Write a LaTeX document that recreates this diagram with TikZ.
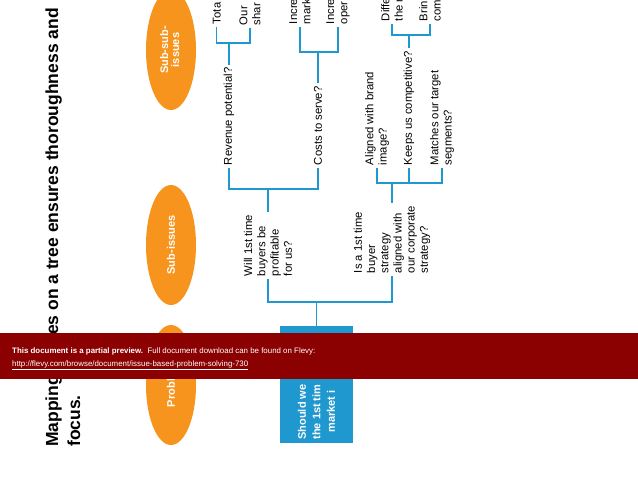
\documentclass[tikz,border=0pt]{standalone}
\usepackage{fontspec}
\setmainfont{Liberation Sans}
\usetikzlibrary{shapes.geometric}
\definecolor{orng}{HTML}{F7941D}
\definecolor{tblue}{HTML}{1F97CF}
\definecolor{bannerred}{HTML}{8B0000}
\tikzset{
  tt/.style={rotate=90, anchor=west, align=left, inner sep=0pt, outer sep=3pt,
    font=\fontsize{11.3}{13.2}\selectfont},
  oval/.style={ellipse, fill=orng, draw=none, minimum width=50pt, minimum height=120pt,
    inner sep=0pt, text=white, font=\bfseries\fontsize{11}{13}\selectfont, align=center},
  conn/.style={draw=tblue, line width=1.5pt},
  titletext/.style={rotate=90, anchor=base west, inner sep=0pt,
    font=\bfseries\fontsize{17.5}{22}\selectfont}
}
\begin{document}
\begin{tikzpicture}[x=1pt,y=-1pt]
\useasboundingbox (0,0) rectangle (638,493);
\fill[white] (0,0) rectangle (638,493);
% title
\node[titletext] (t1) at (58,447) {Mapping issues on a tree ensures thoroughness and};
\node[titletext] (t2) at (80,447) {focus.};
% ovals
\node[oval] (o1) at (171,50) {\rotatebox{90}{\begin{tabular}{@{}c@{}}Sub-sub-\\[-2pt]issues\end{tabular}}};
\node[oval] (o2) at (171,245) {\rotatebox{90}{Sub-issues}};
\node[oval] (o3) at (171,385) {\rotatebox{90}{Problem}};
% problem box
\node[rotate=90, fill=tblue, minimum width=117pt, minimum height=73pt, inner sep=0pt,
  text=white, align=center, font=\bfseries\fontsize{11}{14.5}\selectfont] (prob) at (316.5,384.5)
  {\makebox[110pt][l]{Should we}\\ \makebox[110pt][l]{the 1st tim}\\ \makebox[96pt][l]{market i}};
% sub-sub-issues (clipped at top)
\node[tt] (tota) at (216.7,27) {Tota};
\node[tt] (our) at (250,28) {Our\\shar};
\node[tt] (inc1) at (300,27) {Incre\\mark};
\node[tt] (inc2) at (338,27) {Incre\\oper};
\node[tt] (diff) at (392,24) {Diffe\\the r};
\node[tt] (brin) at (430,24) {Brin\\com};
% level 3
\node[tt] (rev) at (229,168) {Revenue potential?};
\node[tt] (cost) at (318,168) {Costs to serve?};
\node[tt] (align) at (377,168) {Aligned with brand\\image?};
\node[tt] (keeps) at (409,168) {Keeps us competitive?};
\node[tt] (match) at (442,168) {Matches our target\\segments?};
% level 2
\node[tt] (will) at (268,279) {Will 1st time\\buyers be\\profitable\\for us?};
\node[tt] (isa) at (392,276) {Is a 1st time\\buyer\\strategy\\aligned with\\our corporate\\strategy?};
% bar points
\coordinate (brev) at (229,43);
\coordinate (bcost) at (318,52);
\coordinate (bkeeps) at (409,35);
\coordinate (bwill) at (268,189);
\coordinate (bisa) at (392,183);
\coordinate (btop) at (316.5,302);
% connectors
\draw[conn] (tota.west) |- (brev) -| (our.west);
\draw[conn] (rev.east) -- (brev);
\draw[conn] (inc1.west) |- (bcost) -| (inc2.west);
\draw[conn] (cost.east) -- (bcost);
\draw[conn] (diff.west) |- (bkeeps) -| (brin.west);
\draw[conn] (keeps.east) -- (bkeeps);
\draw[conn] (rev.west) |- (bwill) -| (cost.west);
\draw[conn] (will.east) -- (bwill);
\draw[conn] (align.west) |- (bisa) -| (match.west);
\draw[conn] (keeps.west) -- (keeps.west |- bisa);
\draw[conn] (isa.east) -- (bisa);
\draw[conn] (will.west) |- (btop) -| (isa.west);
\draw[conn] (prob.east) -- (btop);
% banner
\fill[bannerred] (0,333) rectangle (638,379);
\node[anchor=base west, inner sep=0pt, text=white, font=\fontsize{7.9}{9}\selectfont] (b1) at (12,353.5)
  {\textbf{This document is a partial preview.}\ \ Full document download can be found on Flevy:};
\node[anchor=base west, inner sep=0pt, text=white, font=\fontsize{7.9}{9}\selectfont] (b2) at (12,366)
  {\underline{http://flevy.com/browse/document/issue-based-problem-solving-730}};
\end{tikzpicture}
\end{document}
